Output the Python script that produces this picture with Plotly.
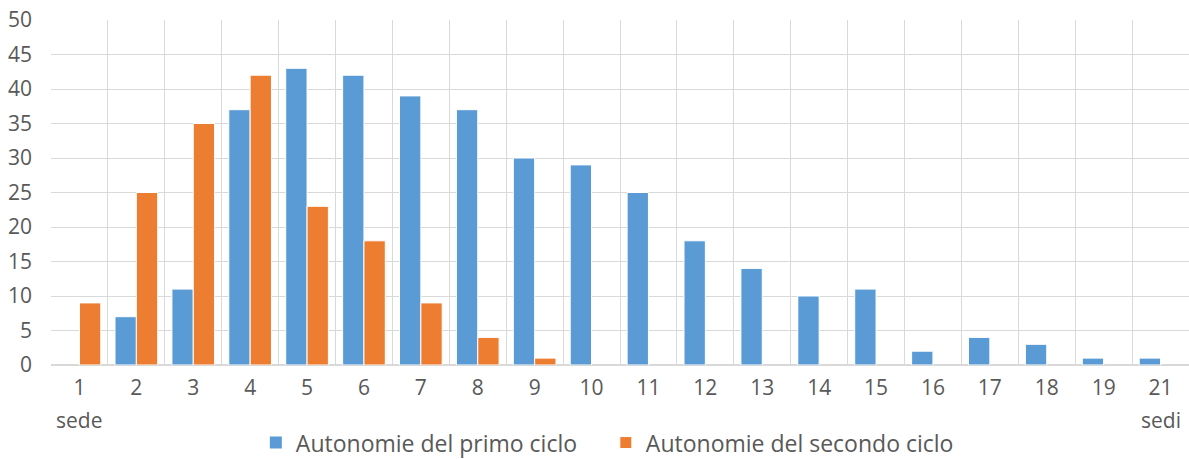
import plotly.graph_objects as go

# Number of sites per autonomy (categories) and counts for each school cycle
categories = ["1 sede", "2", "3", "4", "5", "6", "7", "8", "9", "10",
              "11", "12", "13", "14", "15", "16", "17", "18", "19", "21 sedi"]
primo_ciclo = [0, 7, 11, 37, 43, 42, 39, 37, 30, 29, 25, 18, 14, 10, 11, 2, 4, 3, 1, 1]
secondo_ciclo = [9, 25, 35, 42, 23, 18, 9, 4, 1, 0, 0, 0, 0, 0, 0, 0, 0, 0, 0, 0]
y_ticks = [0, 5, 10, 15, 20, 25, 30, 35, 40, 45, 50]

FONT = "Open Sans"
TEXT = "#595959"
GRID = "#d9d9d9"

# First line of each category goes on the axis, the unit word (if any) below it
tick_main = [c.split(" ")[0] for c in categories]
tick_sub = [c.split(" ")[1] if " " in c else "" for c in categories]


def outline(values):
    # white separation edge only on bars that actually have height
    return dict(color="#ffffff", width=[1 if v else 0 for v in values])


fig = go.Figure()
fig.add_trace(go.Bar(
    x=categories, y=primo_ciclo, name="Autonomie del primo ciclo",
    marker=dict(color="#5B9BD5", line=outline(primo_ciclo)),
))
fig.add_trace(go.Bar(
    x=categories, y=secondo_ciclo, name="Autonomie del secondo ciclo",
    marker=dict(color="#ED7D31", line=outline(secondo_ciclo)),
))

for cat, sub in zip(categories, tick_sub):
    if sub:
        fig.add_annotation(
            x=cat, xref="x", y=-0.16, yref="paper", yanchor="middle",
            text=sub, showarrow=False,
            font=dict(family=FONT, size=21, color=TEXT),
        )

fig.update_layout(
    width=1189, height=459,
    margin=dict(l=51, r=0, t=20, b=94, autoexpand=False),
    paper_bgcolor="white", plot_bgcolor="white",
    barmode="group", bargap=0.25, bargroupgap=0.0,
    font=dict(family=FONT, size=21, color=TEXT),
    showlegend=True,
    legend=dict(
        orientation="h", x=0.18, xanchor="left", xref="paper",
        y=-0.225, yanchor="middle",
        font=dict(family=FONT, size=23, color=TEXT),
        itemwidth=30, entrywidth=305, entrywidthmode="pixels",
        traceorder="normal",
    ),
    xaxis=dict(
        type="category", categoryorder="array", categoryarray=categories,
        tickmode="array", tickvals=categories, ticktext=tick_main,
        showgrid=True, gridcolor=GRID, gridwidth=1, tickson="boundaries",
        ticks="", showline=True, linecolor=GRID, linewidth=1,
        tickfont=dict(family=FONT, size=21, color=TEXT),
        ticklabelstandoff=4, automargin=False,
    ),
    yaxis=dict(
        range=[0, 50], tickmode="array", tickvals=y_ticks,
        showgrid=True, gridcolor=GRID, gridwidth=1,
        zeroline=True, zerolinecolor=GRID, zerolinewidth=2,
        showline=False, ticks="",
        tickfont=dict(family=FONT, size=21, color=TEXT),
        ticklabelstandoff=18, automargin=False,
    ),
)

fig.write_html("out.html")
